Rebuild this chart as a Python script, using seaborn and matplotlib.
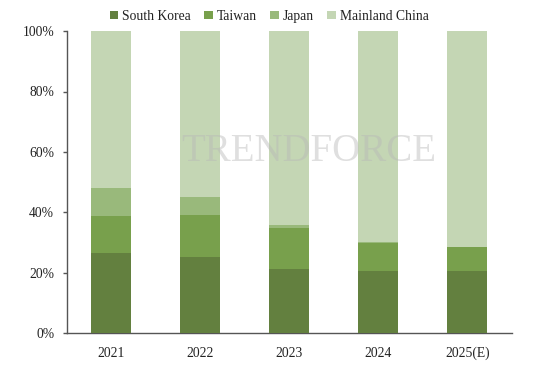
import matplotlib
matplotlib.use("Agg")
import matplotlib.pyplot as plt
import seaborn as sns
import pandas as pd
import numpy as np

years = ["2021", "2022", "2023", "2024", "2025(E)"]
south_korea = [26.4, 25.1, 21.3, 20.5, 20.7]
taiwan = [12.2, 14.0, 13.4, 9.4, 7.7]
japan = [9.5, 5.9, 1.2, 0.4, 0.1]
mainland_china = [51.9, 55.0, 64.1, 69.7, 71.5]

series_names = ["South Korea", "Taiwan", "Japan", "Mainland China"]
colors = ["#63803F", "#78A04C", "#99B97B", "#C4D6B4"]

df = pd.DataFrame({"Year": years, "South Korea": south_korea, "Taiwan": taiwan,
                   "Japan": japan, "Mainland China": mainland_china})

sns.set_theme(style="white")
plt.rcParams["font.family"] = ["Liberation Serif", "DejaVu Serif"]
plt.rcParams["font.serif"] = ["Liberation Serif", "DejaVu Serif"]

fig = plt.figure(figsize=(5.6, 3.75), dpi=100)
ax = fig.add_axes([0.119, 0.112, 0.795, 0.805])

bottom = np.zeros(len(years))
for name, col in zip(series_names, colors):
    vals = df[name].to_numpy() / 100.0
    d = pd.DataFrame({"Year": years, "v": vals + bottom})
    sns.barplot(data=d, x="Year", y="v", color=col, width=0.45, ax=ax,
                label=name, saturation=1)
    bottom = bottom + vals

n = len(years)
for i in range(len(series_names)):
    for p in ax.patches[i * n:(i + 1) * n]:
        p.set_zorder(10 - i)
        p.set_edgecolor("none")

ax.set_xlim(-0.5, 4.5)
ax.set_ylim(0, 1.0)
ax.set_yticks([0, 0.2, 0.4, 0.6, 0.8, 1.0])
ax.set_yticklabels(["0%", "20%", "40%", "60%", "80%", "100%"])
ax.set_xlabel("")
ax.set_ylabel("")
for s in ["top", "right"]:
    ax.spines[s].set_visible(False)
for s in ["left", "bottom"]:
    ax.spines[s].set_color("#555555")
    ax.spines[s].set_linewidth(1.0)
ax.tick_params(axis="y", which="both", left=True, length=3, width=1.0, color="#555555",
               labelsize=9.8, labelcolor="#222222", pad=6, direction="out")
ax.tick_params(axis="x", bottom=False, labelsize=9.8, labelcolor="#222222", pad=4)
for lab in ax.get_xticklabels() + ax.get_yticklabels():
    lab.set_family("Liberation Serif")

# watermark
fig.text(0.552, 0.595, "TRENDFORCE", fontsize=28, color="#b8b8b8", alpha=0.45,
         ha="center", va="center", family=["Liberation Serif"], zorder=20)

handles, labels = ax.get_legend_handles_labels()
leg = ax.legend(handles, labels, loc="lower center", bbox_to_anchor=(0.455, 1.0), ncol=4,
                frameon=False, prop={"family": "Liberation Serif", "size": 9.8},
                handlelength=0.6, handleheight=0.6,
                handletextpad=0.3, columnspacing=1.0, borderaxespad=0.2)
for t in leg.get_texts():
    t.set_color("#222222")

fig.savefig("out.png", dpi=100)
